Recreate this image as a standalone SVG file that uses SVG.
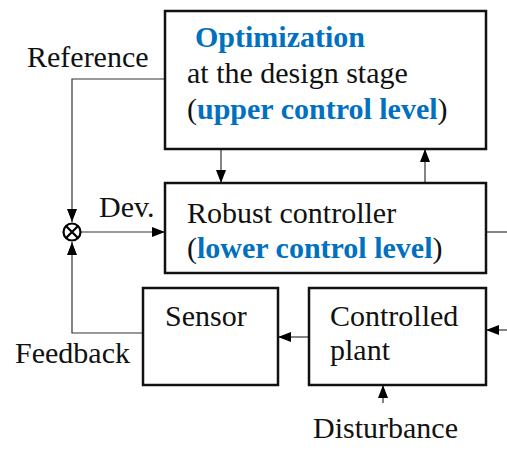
<svg xmlns="http://www.w3.org/2000/svg" width="507" height="451" viewBox="0 0 507 451">
<style>
  .box { fill: #fff; stroke: #111; stroke-width: 2.5; }
  .conn { fill: none; stroke: #333; stroke-width: 1.2; }
  text { font-family: "Liberation Serif", "DejaVu Serif", serif; font-size: 30px; fill: #111; }
  .b { font-weight: bold; fill: #0070C0; }
</style>
<defs>
  <marker id="ah" markerUnits="userSpaceOnUse" markerWidth="14" markerHeight="10" refX="13" refY="5" orient="auto">
    <path d="M0,0 L13,5 L0,10 z" fill="#000"/>
  </marker>
</defs>
<g id="connectors">
  <path class="conn" d="M165,79 H72 V222" marker-end="url(#ah)"/>
  <path class="conn" d="M81,232 H165" marker-end="url(#ah)"/>
  <path class="conn" d="M143,333 H72 V242" marker-end="url(#ah)"/>
  <path class="conn" d="M221,149 V183" marker-end="url(#ah)"/>
  <path class="conn" d="M425,183 V149" marker-end="url(#ah)"/>
  <path class="conn" d="M486,232 H507"/>
  <path class="conn" d="M507,330 H486" marker-end="url(#ah)"/>
  <path class="conn" d="M309,337 H278" marker-end="url(#ah)"/>
  <path class="conn" d="M383,403 V385" marker-end="url(#ah)"/>
</g>
<g id="junction">
  <circle cx="72" cy="232" r="8.5" fill="#fff" stroke="#000" stroke-width="2.2"/>
  <path d="M66,226 L78,238 M78,226 L66,238" stroke="#000" stroke-width="2.2"/>
</g>
<g id="optimization">
  <rect class="box" x="165" y="11" width="321" height="138"/>
  <text x="195" y="47" class="b">Optimization</text>
  <text x="187" y="83">at the design stage</text>
  <text x="187" y="119">(<tspan class="b">upper control level</tspan>)</text>
</g>
<g id="robust">
  <rect class="box" x="165" y="183" width="321" height="90"/>
  <text x="187" y="223">Robust controller</text>
  <text x="187" y="258">(<tspan class="b">lower control level</tspan>)</text>
</g>
<g id="sensor">
  <rect class="box" x="143" y="288" width="135" height="97"/>
  <text x="165" y="326">Sensor</text>
</g>
<g id="plant">
  <rect class="box" x="309" y="288" width="177" height="97"/>
  <text x="330" y="326">Controlled</text>
  <text x="330" y="360">plant</text>
</g>
<g id="labels">
  <text x="27" y="67">Reference</text>
  <text x="99" y="217">Dev.</text>
  <text x="15" y="363">Feedback</text>
  <text x="313" y="438">Disturbance</text>
</g>
</svg>
